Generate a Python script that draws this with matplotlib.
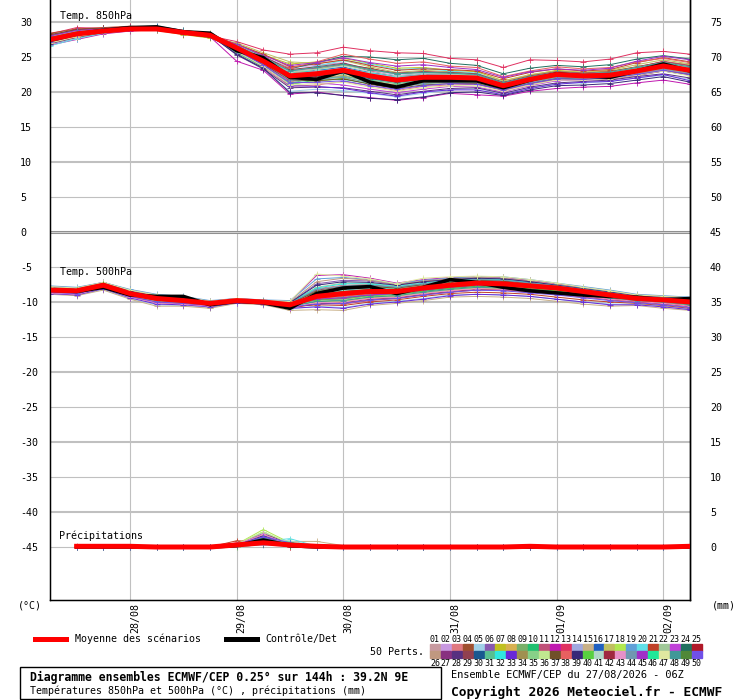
import matplotlib
matplotlib.use('Agg')
import matplotlib.pyplot as plt
from matplotlib.lines import Line2D
from matplotlib.patches import Rectangle

plt.rcParams['font.family'] = ['DejaVu Sans Mono', 'DejaVu Sans']

#--------------------------------------------------------------------------------------------------
# data (hours after 27/08/2026 06Z)
hours = [0, 6, 12, 18, 24, 30, 36, 42, 48, 54, 60, 66, 72, 78, 84, 90, 96, 102, 108, 114, 120, 126, 132, 138, 144]
hours_rr = [6, 12, 18, 24, 30, 36, 42, 48, 54, 60, 66, 72, 78, 84, 90, 96, 102, 108, 114, 120, 126, 132, 138, 144]

day_hours = [18, 42, 66, 90, 114, 138]
day_labels = ['28/08', '29/08', '30/08', '31/08', '01/09', '02/09']

t850_mean = [27.5, 28.3, 28.7, 29.0, 29.0, 28.5, 28.1, 26.3, 24.4, 22.3, 22.6, 23.1, 22.3, 21.7, 22.1, 22.1,
             22.0, 20.9, 21.8, 22.5, 22.3, 22.4, 23.0, 23.7, 23.1]
t850_ctrl = [27.4, 28.3, 28.8, 29.2, 29.3, 28.6, 28.4, 25.9, 24.9, 22.1, 21.8, 23.0, 21.4, 20.7, 21.6, 21.6,
             21.6, 20.6, 21.7, 22.6, 22.3, 22.1, 23.0, 24.0, 23.0]

t500_mean = [-8.3, -8.4, -7.6, -8.8, -9.5, -9.8, -10.2, -9.8, -10.0, -10.4, -9.2, -8.8, -8.5, -8.5, -8.0, -7.6,
             -7.3, -7.4, -7.7, -8.0, -8.5, -9.0, -9.5, -9.7, -10.0]
t500_ctrl = [-8.3, -8.5, -7.9, -9.0, -9.2, -9.2, -10.4, -9.9, -10.1, -10.9, -8.8, -8.0, -7.8, -8.8, -7.9, -6.8,
             -7.2, -7.9, -8.4, -8.7, -9.0, -9.2, -9.3, -9.7, -9.5]

rr_mean = [0.1, 0.1, 0.1, 0, 0, 0, 0.3, 0.6, 0.3, 0.1, 0, 0, 0, 0, 0, 0, 0, 0.1, 0, 0, 0, 0, 0, 0.1]
rr_ctrl = [0, 0, 0, 0, 0, 0, 0.2, 1.0, 0.2, 0, 0, 0, 0, 0, 0, 0, 0, 0, 0, 0, 0, 0, 0, 0]

t850_members = [
    [27.4, 28.2, 28.9, 29.1, 29.0, 28.4, 28.0, 26.0, 24.1, 21.8, 22.3, 22.9, 22.0, 21.2, 21.8, 21.9, 21.8, 20.6, 21.5, 22.3, 22.1, 22.3, 22.8, 23.5, 23.0],
    [27.8, 28.6, 28.8, 29.2, 29.2, 28.6, 28.2, 26.6, 25.0, 23.5, 23.8, 24.2, 23.1, 22.5, 22.8, 22.6, 22.4, 21.3, 22.2, 22.9, 22.6, 22.7, 23.3, 24.0, 23.4],
    [27.0, 27.9, 28.5, 28.9, 29.1, 28.5, 28.1, 25.8, 23.5, 20.8, 21.0, 21.5, 20.9, 20.2, 20.8, 21.0, 21.1, 20.2, 21.0, 21.8, 21.9, 22.1, 22.6, 23.2, 22.6],
    [28.1, 28.8, 29.0, 29.3, 29.1, 28.3, 27.8, 26.2, 24.5, 22.9, 23.2, 23.9, 23.4, 22.6, 22.9, 22.7, 22.3, 21.2, 22.0, 22.6, 22.4, 22.5, 23.1, 23.8, 23.3],
    [26.9, 27.6, 28.4, 28.8, 28.9, 28.6, 28.3, 25.5, 23.2, 20.1, 20.4, 20.2, 19.8, 19.3, 19.8, 20.3, 20.5, 19.8, 20.6, 21.2, 21.3, 21.5, 22.0, 22.4, 21.8],
    [27.5, 28.4, 28.9, 29.0, 29.1, 28.7, 28.2, 26.4, 24.6, 22.5, 23.0, 23.6, 22.4, 22.0, 22.3, 22.2, 22.1, 20.8, 21.7, 22.5, 22.4, 22.6, 23.4, 24.1, 23.6],
    [27.9, 28.5, 28.7, 29.0, 28.8, 28.2, 27.7, 26.9, 25.3, 24.0, 24.3, 24.8, 24.1, 23.4, 23.5, 23.1, 22.9, 21.6, 22.4, 23.1, 22.8, 23.0, 23.6, 24.3, 23.9],
    [27.3, 28.3, 28.8, 29.2, 29.3, 28.8, 28.4, 26.1, 24.0, 21.5, 21.9, 22.4, 21.6, 21.0, 21.5, 21.6, 21.6, 20.7, 21.6, 22.2, 22.0, 22.2, 22.7, 23.4, 22.8],
    [28.0, 29.0, 29.1, 29.2, 29.0, 28.4, 28.0, 26.7, 24.9, 22.8, 22.4, 22.8, 22.2, 21.6, 22.0, 22.3, 22.2, 21.0, 21.9, 22.6, 22.5, 22.4, 23.2, 23.9, 23.2],
    [27.2, 28.1, 28.6, 28.9, 29.0, 28.5, 28.2, 25.9, 23.8, 21.1, 21.7, 21.8, 21.2, 20.6, 21.3, 21.5, 21.4, 20.4, 21.3, 22.0, 21.8, 22.0, 22.5, 23.0, 22.4],
    [27.7, 28.3, 28.7, 29.1, 29.2, 28.6, 28.1, 26.5, 24.7, 23.1, 23.4, 24.0, 23.0, 22.2, 22.5, 22.4, 22.2, 21.1, 21.9, 22.7, 22.5, 22.6, 23.5, 24.4, 23.8],
    [26.7, 27.5, 28.3, 28.7, 28.9, 28.3, 27.9, 24.4, 23.1, 19.7, 20.0, 19.5, 19.2, 18.8, 19.2, 19.8, 19.6, 19.4, 20.1, 20.5, 20.7, 20.8, 21.3, 21.7, 21.1],
    [28.3, 29.2, 29.1, 29.3, 29.2, 28.5, 28.0, 27.2, 26.0, 25.4, 25.6, 26.4, 25.9, 25.6, 25.5, 24.8, 24.6, 23.5, 24.6, 24.5, 24.3, 24.7, 25.6, 25.8, 25.4],
    [27.5, 28.4, 28.8, 29.0, 29.0, 28.4, 28.1, 26.3, 24.3, 22.2, 22.5, 23.0, 22.3, 21.7, 22.0, 22.2, 22.0, 20.9, 21.8, 22.4, 22.2, 22.3, 22.9, 23.6, 23.0],
    [27.1, 28.0, 28.6, 29.0, 29.1, 28.7, 28.3, 26.0, 24.2, 22.0, 22.6, 23.3, 22.6, 21.9, 22.2, 22.0, 21.9, 20.8, 21.7, 22.4, 22.3, 22.5, 23.0, 23.7, 23.2],
    [27.6, 28.6, 28.9, 29.3, 29.4, 28.8, 28.3, 26.5, 24.8, 22.6, 23.1, 23.5, 22.8, 22.3, 22.6, 22.5, 22.3, 21.2, 22.1, 22.8, 22.6, 22.8, 23.4, 24.1, 23.5],
    [27.9, 28.7, 28.8, 29.1, 28.9, 28.3, 27.8, 27.0, 25.6, 24.3, 24.1, 24.5, 23.6, 22.8, 23.1, 22.9, 22.6, 21.6, 22.5, 23.0, 22.8, 23.1, 23.9, 24.6, 24.0],
    [27.0, 27.8, 28.5, 28.9, 29.0, 28.6, 28.2, 25.7, 23.7, 21.2, 21.5, 22.0, 21.4, 20.8, 21.2, 21.4, 21.3, 20.5, 21.4, 22.1, 22.2, 22.4, 22.9, 23.4, 22.9],
    [27.4, 28.3, 28.8, 29.2, 29.2, 28.5, 28.0, 26.2, 24.4, 22.4, 22.8, 23.2, 22.5, 21.9, 22.2, 22.1, 22.0, 20.9, 21.8, 22.5, 22.3, 22.4, 23.0, 23.7, 23.1],
    [26.6, 27.6, 28.4, 28.8, 29.0, 28.4, 27.8, 25.9, 24.1, 22.9, 23.7, 24.5, 24.0, 23.2, 23.4, 23.0, 22.7, 21.4, 22.2, 22.6, 22.3, 22.5, 23.2, 23.9, 23.3],
    [28.4, 29.0, 29.2, 29.4, 29.2, 28.6, 28.2, 26.8, 25.4, 23.6, 24.0, 24.6, 23.8, 23.1, 23.3, 23.2, 23.0, 21.9, 22.8, 23.3, 23.0, 23.2, 24.2, 24.9, 24.3],
    [27.3, 28.2, 28.7, 29.0, 29.0, 28.5, 28.1, 26.1, 24.2, 21.9, 22.1, 22.6, 21.8, 21.3, 21.7, 21.8, 21.7, 20.6, 21.5, 22.2, 22.1, 22.2, 22.8, 23.5, 22.9],
    [27.8, 28.5, 28.9, 29.1, 29.1, 28.4, 27.9, 26.4, 24.3, 21.4, 21.3, 21.0, 20.4, 19.9, 20.4, 20.8, 20.7, 20.0, 20.9, 21.6, 21.7, 21.8, 22.3, 23.0, 22.4],
    [27.5, 28.4, 28.8, 29.2, 29.3, 28.7, 28.3, 26.6, 24.9, 23.3, 24.2, 25.1, 25.0, 24.6, 24.8, 24.1, 23.8, 22.6, 23.4, 23.8, 23.6, 23.9, 24.7, 25.2, 24.7],
    [27.2, 28.1, 28.6, 29.0, 29.2, 28.6, 28.2, 26.3, 24.4, 22.3, 22.7, 23.2, 22.5, 21.9, 22.1, 22.0, 21.8, 20.7, 21.6, 22.3, 22.2, 22.3, 22.9, 23.6, 23.1],
    [27.9, 28.8, 29.0, 29.1, 29.0, 28.3, 27.9, 26.0, 23.9, 21.6, 21.9, 22.3, 21.5, 20.9, 21.4, 21.5, 21.5, 20.5, 21.4, 22.1, 22.0, 22.1, 22.6, 23.2, 22.6],
    [27.6, 28.4, 28.9, 29.2, 29.1, 28.5, 28.1, 26.3, 24.5, 22.1, 22.4, 22.9, 22.1, 21.5, 21.9, 21.9, 21.8, 20.7, 21.7, 22.4, 22.2, 22.4, 23.0, 23.6, 23.0],
    [26.9, 27.8, 28.5, 28.9, 29.1, 28.6, 28.2, 25.3, 23.3, 20.6, 20.7, 20.6, 20.1, 19.6, 20.1, 20.5, 20.6, 19.8, 20.7, 21.3, 21.5, 21.7, 22.2, 22.6, 22.0],
    [28.0, 28.9, 29.1, 29.3, 29.2, 28.5, 28.0, 26.7, 25.1, 23.2, 23.6, 24.1, 23.3, 22.7, 22.9, 22.8, 22.6, 21.4, 22.3, 22.9, 22.7, 22.9, 23.6, 24.3, 23.7],
    [27.4, 28.3, 28.8, 29.1, 29.1, 28.5, 28.0, 26.2, 24.3, 22.0, 22.3, 22.7, 21.9, 21.4, 21.8, 21.9, 21.8, 20.8, 21.7, 22.4, 22.3, 22.4, 23.1, 23.8, 23.2],
    [27.1, 28.0, 28.6, 29.0, 29.2, 28.7, 28.3, 25.6, 23.6, 21.3, 21.9, 22.2, 21.7, 21.2, 21.6, 21.7, 21.6, 20.6, 21.6, 22.3, 22.2, 22.4, 22.9, 23.5, 22.9],
    [27.7, 28.5, 28.8, 29.1, 29.0, 28.4, 27.9, 26.6, 24.8, 22.7, 23.0, 23.4, 22.7, 22.1, 22.4, 22.4, 22.3, 21.1, 22.0, 22.7, 22.5, 22.6, 23.3, 24.0, 23.4],
    [27.3, 28.2, 28.7, 29.0, 29.1, 28.5, 28.1, 26.0, 23.8, 20.9, 20.8, 20.5, 19.9, 19.4, 20.0, 20.3, 20.3, 19.6, 20.5, 21.1, 21.4, 21.5, 22.0, 22.5, 21.6],
    [27.8, 28.7, 29.0, 29.2, 29.1, 28.4, 28.0, 26.5, 24.6, 22.4, 22.8, 23.1, 22.4, 21.8, 22.1, 22.1, 22.0, 20.9, 21.8, 22.5, 22.4, 22.5, 23.2, 23.9, 23.3],
    [27.2, 28.1, 28.7, 29.0, 29.1, 28.6, 28.2, 26.3, 24.5, 22.6, 23.3, 23.8, 23.2, 22.6, 22.8, 22.6, 22.4, 21.2, 22.1, 22.7, 22.5, 22.7, 23.4, 24.0, 23.5],
    [27.5, 28.3, 28.8, 29.1, 29.1, 28.5, 28.0, 26.4, 24.6, 22.3, 22.6, 23.0, 22.2, 21.6, 22.0, 22.0, 21.9, 20.8, 21.8, 22.5, 22.3, 22.4, 23.1, 23.7, 23.2],
    [28.2, 28.9, 29.1, 29.2, 29.0, 28.3, 27.8, 26.1, 24.0, 21.7, 21.6, 21.9, 21.1, 20.5, 21.0, 21.2, 21.2, 20.3, 21.2, 21.9, 21.8, 21.9, 22.4, 23.0, 22.5],
    [27.0, 27.9, 28.5, 28.9, 29.0, 28.5, 28.2, 26.2, 24.6, 23.4, 24.3, 25.4, 24.7, 24.1, 24.3, 23.7, 23.5, 22.2, 23.0, 23.6, 23.3, 23.5, 24.3, 24.8, 24.2],
    [27.6, 28.5, 28.9, 29.2, 29.2, 28.6, 28.1, 25.4, 23.4, 19.9, 19.9, 19.5, 19.1, 18.9, 19.3, 19.9, 20.0, 19.5, 20.3, 20.9, 21.0, 21.2, 21.7, 22.2, 21.4],
    [27.4, 28.2, 28.7, 29.0, 29.0, 28.4, 28.0, 26.3, 24.4, 22.2, 22.5, 23.0, 22.3, 21.8, 22.1, 22.1, 22.0, 20.9, 21.8, 22.4, 22.3, 22.4, 23.0, 23.6, 23.0],
    [27.9, 28.7, 28.9, 29.2, 29.1, 28.5, 28.1, 26.7, 25.0, 22.9, 23.2, 23.7, 22.9, 22.3, 22.6, 22.5, 22.3, 21.2, 22.1, 22.8, 22.6, 22.8, 23.5, 24.2, 23.6],
    [27.1, 27.9, 28.6, 29.0, 29.1, 28.6, 28.2, 26.0, 24.0, 21.8, 22.2, 22.8, 22.1, 21.5, 21.8, 21.9, 21.8, 20.7, 21.6, 22.3, 22.2, 22.3, 22.9, 23.5, 22.9],
    [27.7, 28.5, 28.8, 29.1, 29.1, 28.4, 28.0, 26.5, 24.7, 22.6, 22.9, 23.4, 22.6, 22.0, 22.3, 22.3, 22.2, 21.0, 21.9, 22.6, 22.4, 22.5, 23.2, 23.9, 23.4],
    [27.3, 28.2, 28.7, 29.0, 29.0, 28.5, 28.1, 26.2, 24.2, 21.7, 21.8, 22.1, 21.3, 20.7, 21.2, 21.4, 21.4, 20.4, 21.4, 22.1, 22.0, 22.2, 22.7, 23.3, 22.7],
    [28.0, 28.8, 29.0, 29.3, 29.2, 28.5, 28.0, 26.8, 25.2, 23.8, 24.2, 24.9, 24.2, 23.7, 23.9, 23.5, 23.2, 22.1, 22.9, 23.3, 23.1, 23.4, 24.4, 25.1, 24.6],
    [27.5, 28.4, 28.8, 29.1, 29.1, 28.5, 28.1, 26.3, 24.4, 22.4, 22.7, 23.1, 22.4, 21.8, 22.1, 22.1, 22.0, 20.9, 21.8, 22.5, 22.3, 22.5, 23.1, 23.7, 23.2],
    [27.0, 27.9, 28.6, 29.0, 29.1, 28.6, 28.2, 25.8, 23.7, 21.0, 21.2, 21.4, 20.7, 20.1, 20.6, 20.9, 20.9, 20.1, 21.0, 21.7, 21.7, 21.9, 22.4, 23.0, 22.3],
    [27.8, 28.6, 28.9, 29.2, 29.1, 28.5, 28.0, 26.6, 24.9, 23.0, 23.5, 24.0, 23.2, 22.6, 22.8, 22.7, 22.5, 21.3, 22.2, 22.8, 22.6, 22.8, 23.5, 24.2, 23.6],
    [27.4, 28.3, 28.8, 29.1, 29.1, 28.5, 28.1, 26.2, 24.3, 22.1, 22.5, 22.9, 22.1, 21.6, 22.0, 22.0, 21.9, 20.8, 21.7, 22.4, 22.3, 22.4, 23.0, 23.7, 23.1],
    [27.2, 28.1, 28.7, 29.0, 29.1, 28.6, 28.2, 25.9, 23.9, 21.3, 21.4, 21.6, 20.9, 20.4, 20.9, 21.2, 21.1, 20.3, 21.2, 21.9, 21.8, 22.0, 22.5, 23.1, 22.5],
]

t500_members = [
    [-8.2, -8.5, -7.5, -8.9, -9.6, -9.9, -10.3, -9.8, -10.0, -10.5, -9.4, -9.1, -8.7, -8.6, -8.1, -7.7, -7.5, -7.6, -7.9, -8.2, -8.7, -9.1, -9.6, -9.8, -10.1],
    [-8.6, -8.7, -7.9, -9.1, -9.9, -10.2, -10.5, -9.9, -10.1, -10.7, -9.8, -9.6, -9.1, -8.9, -8.5, -8.0, -7.7, -7.8, -8.2, -8.5, -8.9, -9.4, -9.9, -10.1, -10.5],
    [-7.9, -8.1, -7.3, -8.5, -9.2, -9.5, -10.0, -9.7, -9.9, -10.2, -8.1, -7.6, -7.5, -7.9, -7.4, -7.0, -6.8, -6.9, -7.3, -7.7, -8.2, -8.6, -9.2, -9.4, -9.6],
    [-8.4, -8.5, -7.6, -8.8, -9.4, -9.7, -10.1, -9.8, -10.0, -10.3, -9.0, -8.6, -8.3, -8.4, -7.8, -7.4, -7.1, -7.2, -7.6, -7.9, -8.4, -8.9, -9.4, -9.6, -9.9],
    [-8.8, -9.0, -8.2, -9.5, -10.4, -10.5, -10.8, -10.1, -10.3, -11.0, -10.6, -10.8, -10.2, -9.9, -9.5, -9.0, -8.9, -9.0, -9.2, -9.6, -10.0, -10.3, -10.3, -10.6, -11.0],
    [-8.1, -8.2, -7.4, -8.6, -9.3, -9.6, -10.1, -9.6, -9.9, -10.1, -7.4, -6.9, -7.0, -7.5, -7.1, -6.8, -6.6, -6.7, -7.1, -7.6, -8.1, -8.7, -9.3, -9.5, -9.7],
    [-8.3, -8.4, -7.6, -8.8, -9.5, -9.8, -10.2, -9.8, -10.0, -10.4, -9.3, -8.9, -8.6, -8.5, -8.0, -7.6, -7.3, -7.4, -7.7, -8.0, -8.5, -9.0, -9.5, -9.7, -10.0],
    [-8.5, -8.6, -7.8, -9.0, -9.7, -10.0, -10.4, -9.9, -10.1, -10.6, -9.9, -9.9, -9.4, -9.2, -8.7, -8.3, -8.0, -8.1, -8.4, -8.7, -9.1, -9.5, -9.8, -10.0, -10.4],
    [-8.0, -8.1, -7.3, -8.4, -9.1, -9.4, -10.0, -9.7, -9.9, -10.1, -8.4, -7.9, -7.7, -8.0, -7.5, -7.1, -6.9, -7.0, -7.4, -7.8, -8.3, -8.8, -9.3, -9.5, -9.8],
    [-8.3, -8.5, -7.7, -8.9, -9.6, -9.9, -10.3, -9.8, -10.0, -10.5, -9.6, -9.3, -8.9, -8.7, -8.2, -7.8, -7.5, -7.5, -7.8, -8.1, -8.6, -9.1, -9.6, -9.8, -10.2],
    [-8.7, -8.9, -8.0, -9.3, -10.1, -10.3, -10.6, -10.0, -10.2, -10.8, -10.2, -10.3, -9.8, -9.5, -9.0, -8.6, -8.3, -8.3, -8.6, -8.9, -9.3, -9.7, -10.0, -10.3, -10.7],
    [-7.8, -8.0, -7.2, -8.3, -9.0, -9.3, -9.9, -9.5, -9.8, -9.9, -6.2, -6.1, -6.6, -7.3, -6.8, -6.5, -6.4, -6.5, -6.9, -7.4, -8.0, -8.5, -9.1, -9.3, -9.5],
    [-8.2, -8.3, -7.5, -8.7, -9.4, -9.7, -10.2, -9.8, -10.0, -10.3, -8.9, -8.4, -8.1, -8.2, -7.7, -7.3, -7.0, -7.1, -7.5, -7.9, -8.4, -8.9, -9.4, -9.6, -9.9],
    [-8.4, -8.6, -7.7, -8.9, -9.6, -9.9, -10.3, -9.9, -10.0, -10.5, -9.5, -9.2, -8.8, -8.7, -8.2, -7.7, -7.4, -7.5, -7.8, -8.1, -8.6, -9.1, -9.6, -9.8, -10.1],
    [-8.9, -9.1, -8.3, -9.6, -10.6, -10.6, -10.9, -10.2, -10.4, -11.2, -11.1, -11.2, -10.5, -10.2, -9.8, -9.3, -9.2, -9.3, -9.5, -9.9, -10.3, -10.6, -10.5, -10.9, -11.2],
    [-8.1, -8.3, -7.4, -8.6, -9.3, -9.6, -10.1, -9.7, -9.9, -10.2, -8.6, -8.2, -7.9, -8.1, -7.6, -7.2, -7.0, -7.1, -7.5, -7.8, -8.3, -8.8, -9.3, -9.5, -9.8],
    [-8.3, -8.4, -7.6, -8.8, -9.5, -9.8, -10.2, -9.8, -10.0, -10.4, -9.2, -8.8, -8.5, -8.5, -8.0, -7.6, -7.3, -7.4, -7.7, -8.0, -8.5, -9.0, -9.5, -9.7, -10.0],
    [-8.5, -8.7, -7.8, -9.0, -9.8, -10.1, -10.4, -9.9, -10.1, -10.6, -10.0, -9.8, -9.3, -9.1, -8.6, -8.2, -7.9, -8.0, -8.3, -8.6, -9.0, -9.4, -9.8, -10.0, -10.4],
    [-7.7, -7.9, -7.2, -8.2, -8.9, -9.2, -9.8, -9.5, -9.7, -9.8, -6.7, -6.5, -6.8, -7.4, -6.9, -6.6, -6.4, -6.4, -6.8, -7.3, -7.8, -8.3, -8.9, -9.1, -9.3],
    [-8.2, -8.4, -7.5, -8.7, -9.4, -9.7, -10.2, -9.8, -10.0, -10.3, -8.7, -8.3, -8.0, -8.2, -7.7, -7.3, -7.1, -7.2, -7.5, -7.9, -8.4, -8.9, -9.4, -9.6, -9.9],
    [-8.6, -8.8, -7.9, -9.2, -10.0, -10.2, -10.5, -10.0, -10.2, -10.7, -10.4, -10.5, -10.0, -9.7, -9.2, -8.8, -8.6, -8.7, -8.9, -9.3, -9.7, -10.0, -10.2, -10.5, -10.9],
    [-8.0, -8.2, -7.4, -8.5, -9.2, -9.5, -10.0, -9.7, -9.9, -10.1, -7.9, -7.3, -7.3, -7.7, -7.2, -6.9, -6.7, -6.8, -7.2, -7.6, -8.1, -8.6, -9.2, -9.4, -9.6],
    [-8.4, -8.5, -7.7, -8.9, -9.6, -9.9, -10.3, -9.9, -10.0, -10.4, -9.4, -9.0, -8.7, -8.6, -8.1, -7.7, -7.4, -7.5, -7.8, -8.1, -8.6, -9.1, -9.6, -9.8, -10.1],
    [-8.3, -8.4, -7.6, -8.8, -9.5, -9.8, -10.2, -9.8, -10.0, -10.4, -9.1, -8.7, -8.4, -8.5, -8.0, -7.5, -7.2, -7.3, -7.7, -8.0, -8.5, -9.0, -9.5, -9.7, -10.0],
    [-8.7, -8.8, -8.0, -9.2, -10.0, -10.3, -10.6, -10.0, -10.2, -10.8, -10.3, -10.1, -9.6, -9.4, -8.9, -8.5, -8.2, -8.2, -8.5, -8.8, -9.2, -9.6, -9.9, -10.2, -10.6],
    [-7.9, -8.1, -7.3, -8.4, -9.1, -9.4, -10.0, -9.6, -9.8, -10.0, -7.1, -6.6, -6.9, -7.5, -7.0, -6.7, -6.5, -6.6, -7.0, -7.5, -8.0, -8.5, -9.0, -9.2, -9.4],
    [-8.2, -8.3, -7.5, -8.7, -9.4, -9.7, -10.2, -9.8, -10.0, -10.3, -8.8, -8.5, -8.2, -8.3, -7.8, -7.4, -7.1, -7.2, -7.6, -7.9, -8.4, -8.9, -9.4, -9.6, -9.9],
    [-8.4, -8.6, -7.8, -9.0, -9.7, -10.0, -10.4, -9.9, -10.1, -10.5, -9.7, -9.5, -9.0, -8.8, -8.4, -7.9, -7.7, -7.8, -8.1, -8.4, -8.8, -9.2, -9.7, -9.9, -10.3],
    [-8.1, -8.2, -7.4, -8.6, -9.3, -9.6, -10.1, -9.7, -9.9, -10.2, -8.3, -7.8, -7.6, -7.9, -7.4, -7.0, -6.8, -6.9, -7.3, -7.7, -8.2, -8.7, -9.2, -9.4, -9.7],
    [-8.5, -8.7, -7.9, -9.1, -9.8, -10.1, -10.5, -10.0, -10.1, -10.6, -9.9, -9.7, -9.2, -9.0, -8.5, -8.1, -7.8, -7.9, -8.2, -8.5, -8.9, -9.3, -9.8, -10.0, -10.3],
    [-8.3, -8.5, -7.6, -8.8, -9.5, -9.8, -10.2, -9.8, -10.0, -10.4, -9.3, -9.0, -8.6, -8.6, -8.1, -7.6, -7.3, -7.4, -7.7, -8.0, -8.5, -9.0, -9.5, -9.7, -10.0],
    [-8.0, -8.1, -7.3, -8.5, -9.2, -9.5, -10.0, -9.7, -9.9, -10.1, -8.0, -7.4, -7.4, -7.8, -7.3, -6.9, -6.7, -6.8, -7.2, -7.6, -8.1, -8.6, -9.1, -9.3, -9.6],
    [-8.8, -9.0, -8.1, -9.4, -10.3, -10.4, -10.7, -10.1, -10.3, -10.9, -10.7, -10.9, -10.3, -10.0, -9.6, -9.1, -8.9, -9.0, -9.2, -9.6, -10.0, -10.4, -10.4, -10.7, -11.1],
    [-8.3, -8.4, -7.6, -8.8, -9.5, -9.8, -10.2, -9.8, -10.0, -10.4, -9.0, -8.6, -8.3, -8.4, -7.9, -7.5, -7.2, -7.3, -7.6, -8.0, -8.5, -9.0, -9.5, -9.7, -10.0],
    [-8.2, -8.3, -7.5, -8.7, -9.4, -9.7, -10.1, -9.8, -10.0, -10.3, -8.5, -8.0, -7.8, -8.1, -7.6, -7.2, -7.0, -7.1, -7.4, -7.8, -8.3, -8.8, -9.3, -9.5, -9.8],
    [-8.6, -8.7, -7.9, -9.1, -9.9, -10.1, -10.5, -10.0, -10.1, -10.6, -9.8, -9.7, -9.2, -9.0, -8.6, -8.2, -7.9, -8.0, -8.3, -8.6, -9.0, -9.4, -9.8, -10.0, -10.4],
    [-8.1, -8.3, -7.4, -8.6, -9.3, -9.6, -10.1, -9.7, -9.9, -10.2, -8.5, -8.1, -7.8, -8.0, -7.5, -7.1, -6.9, -7.0, -7.4, -7.8, -8.3, -8.8, -9.3, -9.5, -9.8],
    [-8.4, -8.5, -7.7, -8.9, -9.6, -9.9, -10.3, -9.9, -10.0, -10.5, -9.5, -9.2, -8.8, -8.7, -8.2, -7.8, -7.5, -7.6, -7.9, -8.2, -8.7, -9.1, -9.6, -9.8, -10.2],
    [-8.0, -8.2, -7.3, -8.5, -9.2, -9.5, -10.0, -9.6, -9.9, -10.1, -7.6, -7.1, -7.2, -7.6, -7.1, -6.8, -6.6, -6.7, -7.1, -7.6, -8.1, -8.6, -9.1, -9.3, -9.5],
    [-8.5, -8.6, -7.8, -9.0, -9.7, -10.0, -10.4, -9.9, -10.1, -10.5, -9.7, -9.5, -9.1, -8.9, -8.4, -8.0, -7.7, -7.8, -8.1, -8.4, -8.8, -9.2, -9.7, -9.9, -10.3],
    [-8.2, -8.4, -7.5, -8.7, -9.4, -9.7, -10.2, -9.8, -10.0, -10.3, -8.8, -8.4, -8.1, -8.3, -7.8, -7.4, -7.1, -7.2, -7.5, -7.9, -8.4, -8.9, -9.4, -9.6, -9.9],
    [-8.3, -8.5, -7.6, -8.8, -9.5, -9.8, -10.2, -9.8, -10.0, -10.4, -9.2, -8.8, -8.5, -8.5, -8.0, -7.6, -7.3, -7.4, -7.7, -8.0, -8.5, -9.0, -9.5, -9.7, -10.0],
    [-8.7, -8.9, -8.0, -9.3, -10.1, -10.3, -10.6, -10.0, -10.2, -10.8, -10.1, -10.0, -9.5, -9.3, -8.8, -8.4, -8.1, -8.2, -8.5, -8.8, -9.2, -9.6, -9.9, -10.2, -10.6],
    [-8.1, -8.2, -7.4, -8.6, -9.3, -9.6, -10.1, -9.7, -9.9, -10.2, -8.2, -7.7, -7.6, -7.9, -7.4, -7.0, -6.8, -6.9, -7.3, -7.7, -8.2, -8.7, -9.2, -9.4, -9.7],
    [-8.4, -8.5, -7.7, -8.9, -9.6, -9.9, -10.3, -9.9, -10.0, -10.5, -9.6, -9.4, -9.0, -8.8, -8.3, -7.9, -7.6, -7.6, -7.9, -8.2, -8.7, -9.2, -9.7, -9.9, -10.2],
    [-8.3, -8.4, -7.6, -8.8, -9.5, -9.8, -10.2, -9.8, -10.0, -10.4, -9.0, -8.7, -8.4, -8.4, -7.9, -7.5, -7.2, -7.3, -7.7, -8.0, -8.5, -9.0, -9.5, -9.7, -10.0],
    [-7.8, -8.0, -7.2, -8.3, -9.0, -9.3, -9.9, -9.5, -9.8, -9.9, -6.0, -6.3, -6.7, -7.4, -6.6, -6.4, -6.3, -6.4, -6.8, -7.3, -7.9, -8.4, -9.0, -9.2, -9.4],
    [-8.5, -8.7, -7.8, -9.0, -9.8, -10.1, -10.4, -9.9, -10.1, -10.6, -9.9, -9.8, -9.3, -9.1, -8.6, -8.2, -7.9, -8.0, -8.3, -8.6, -9.0, -9.4, -9.8, -10.0, -10.4],
    [-8.2, -8.3, -7.5, -8.7, -9.4, -9.7, -10.2, -9.8, -10.0, -10.3, -8.9, -8.5, -8.2, -8.3, -7.8, -7.4, -7.1, -7.2, -7.6, -7.9, -8.4, -8.9, -9.4, -9.6, -9.9],
    [-8.6, -8.8, -7.9, -9.2, -10.0, -10.2, -10.5, -10.0, -10.2, -10.7, -10.3, -10.2, -9.7, -9.5, -9.0, -8.6, -8.3, -8.4, -8.7, -9.0, -9.4, -9.8, -10.1, -10.4, -10.8],
]

rr_members = [
    [0, 0, 0, 0, 0, 0, 0.3, 0.9, 0.2, 0, 0, 0, 0, 0, 0, 0, 0, 0, 0, 0, 0, 0, 0, 0],
    [0, 0, 0, 0, 0, 0, 0.2, 1.4, 0.3, 0, 0, 0, 0, 0, 0, 0, 0, 0, 0, 0, 0, 0, 0, 0],
    [0.1, 0, 0, 0, 0, 0, 0.4, 1.0, 0.1, 0, 0, 0, 0, 0, 0, 0, 0, 0, 0, 0, 0, 0, 0, 0],
    [0, 0, 0, 0, 0, 0, 0.5, 0.6, 0, 0, 0, 0, 0, 0, 0, 0, 0, 0, 0, 0, 0, 0, 0, 0],
    [0, 0, 0, 0, 0, 0, 0.1, 0.5, 0.4, 0, 0, 0, 0, 0, 0, 0, 0, 0, 0, 0, 0, 0, 0, 0],
    [0, 0, 0, 0, 0, 0, 0.3, 1.8, 0.2, 0, 0, 0, 0, 0, 0, 0, 0, 0, 0, 0, 0, 0, 0, 0],
    [0, 0, 0, 0, 0, 0, 0.2, 1.2, 0.3, 0, 0, 0, 0, 0, 0, 0, 0, 0, 0, 0, 0, 0, 0, 0],
    [0, 0, 0, 0, 0, 0, 0.1, 0.7, 0.2, 0, 0, 0, 0, 0, 0, 0, 0, 0, 0, 0, 0, 0, 0, 0],
    [0, 0, 0, 0, 0, 0, 0.3, 1.5, 0.4, 0, 0, 0, 0, 0, 0, 0, 0, 0, 0, 0, 0, 0, 0, 0],
    [0, 0, 0, 0, 0, 0, 0, 0.4, 0.1, 0, 0, 0, 0, 0, 0, 0, 0, 0, 0, 0, 0, 0, 0, 0],
    [0, 0, 0, 0, 0, 0, 0.4, 1.1, 0.2, 0, 0, 0, 0, 0, 0, 0, 0, 0, 0, 0, 0, 0, 0, 0],
    [0, 0, 0, 0, 0, 0, 0.2, 1.6, 0.3, 0, 0, 0, 0, 0, 0, 0, 0, 0, 0, 0, 0, 0, 0, 0],
    [0, 0, 0, 0, 0, 0, 0.6, 0.8, 0, 0, 0, 0, 0, 0, 0, 0, 0, 0, 0, 0, 0, 0, 0, 0],
    [0, 0, 0, 0, 0, 0, 0.1, 0.3, 0.1, 0, 0, 0, 0, 0, 0, 0, 0, 0, 0, 0, 0, 0, 0, 0],
    [0, 0, 0, 0, 0, 0, 0, 0.4, 0.8, 0.8, 0.2, 0, 0, 0, 0, 0, 0, 0, 0, 0, 0, 0, 0, 0],
    [0, 0, 0, 0, 0, 0, 0.2, 0.9, 0.2, 0, 0, 0, 0, 0, 0, 0, 0, 0, 0, 0, 0, 0, 0, 0],
    [0, 0, 0, 0, 0, 0, 0.3, 1.3, 0.3, 0, 0, 0, 0, 0, 0, 0, 0, 0, 0, 0, 0, 0, 0, 0],
    [0, 0, 0, 0, 0, 0, 0.4, 2.5, 0.6, 0, 0, 0, 0, 0, 0, 0, 0, 0, 0, 0, 0, 0, 0, 0],
    [0, 0, 0, 0, 0, 0, 0.1, 0.6, 0.2, 0, 0, 0, 0, 0, 0, 0, 0, 0, 0, 0, 0, 0, 0, 0],
    [0, 0, 0, 0, 0, 0, 0.2, 0.8, 1.2, 0.1, 0, 0, 0, 0, 0, 0, 0, 0, 0, 0, 0, 0, 0, 0],
    [0, 0, 0, 0, 0, 0, 0.9, 0.7, 0.1, 0, 0, 0, 0, 0, 0, 0, 0, 0, 0, 0, 0, 0, 0, 0],
    [0, 0, 0, 0, 0, 0, 0.3, 2.1, 0.4, 0, 0, 0, 0, 0, 0, 0, 0, 0, 0, 0, 0, 0, 0, 0],
    [0, 0, 0, 0, 0, 0, 0.2, 1.0, 0.3, 0, 0, 0, 0, 0, 0, 0, 0, 0, 0, 0, 0, 0, 0, 0],
    [0, 0, 0, 0, 0, 0, 0.1, 0.5, 0.1, 0, 0, 0, 0, 0, 0, 0, 0, 0, 0, 0, 0, 0, 0, 0],
    [0, 0, 0, 0, 0, 0, 0.5, 0.9, 0.2, 0, 0, 0, 0, 0, 0, 0, 0, 0, 0, 0, 0, 0, 0, 0],
    [0, 0, 0, 0, 0, 0, 0.2, 1.7, 0.3, 0, 0, 0, 0, 0, 0, 0, 0, 0, 0, 0, 0, 0, 0, 0],
    [0, 0, 0, 0, 0, 0, 0.3, 1.9, 0.5, 0, 0, 0, 0, 0, 0, 0, 0, 0, 0, 0, 0, 0, 0, 0],
    [0, 0, 0, 0, 0, 0, 0.2, 1.4, 0.2, 0, 0, 0, 0, 0, 0, 0, 0, 0, 0, 0, 0, 0, 0, 0],
    [0, 0, 0, 0, 0, 0, 0.4, 1.2, 0.3, 0, 0, 0, 0, 0, 0, 0, 0, 0, 0, 0, 0, 0, 0, 0],
    [0, 0, 0, 0, 0, 0, 0.1, 0.5, 0.1, 0, 0, 0, 0, 0, 0, 0, 0, 0, 0, 0, 0, 0, 0, 0],
    [0, 0, 0, 0, 0, 0, 0.2, 0.9, 0.6, 0, 0, 0, 0, 0, 0, 0, 0, 0, 0, 0, 0, 0, 0, 0],
    [0, 0, 0, 0, 0, 0, 0.3, 1.1, 0.2, 0, 0, 0, 0, 0, 0, 0, 0, 0, 0, 0, 0, 0, 0, 0],
    [0, 0, 0, 0, 0, 0, 0.2, 1.5, 0.3, 0, 0, 0, 0, 0, 0, 0, 0, 0, 0, 0, 0, 0, 0, 0],
    [0, 0, 0, 0, 0, 0, 0.1, 1.0, 0.2, 0, 0, 0, 0, 0, 0, 0, 0, 0, 0, 0, 0, 0, 0, 0],
    [0, 0, 0, 0, 0, 0, 0.3, 1.3, 0.4, 0, 0, 0, 0, 0, 0, 0, 0, 0, 0, 0, 0, 0, 0, 0],
    [0, 0, 0, 0, 0, 0, 0.4, 2.2, 0.5, 0, 0, 0, 0, 0, 0, 0, 0, 0, 0, 0, 0, 0, 0, 0],
    [0, 0, 0, 0, 0, 0, 0.2, 0.8, 0.1, 0, 0, 0, 0, 0, 0, 0, 0, 0, 0, 0, 0, 0, 0, 0],
    [0, 0, 0, 0, 0, 0, 0.3, 0.6, 0.2, 0, 0, 0, 0, 0, 0, 0, 0, 0, 0, 0, 0, 0, 0, 0],
    [0, 0, 0, 0, 0, 0, 0.2, 1.6, 0.3, 0, 0, 0, 0, 0, 0, 0, 0, 0, 0, 0, 0, 0, 0, 0],
    [0, 0, 0, 0, 0, 0, 0.1, 0.7, 0.2, 0, 0, 0, 0, 0, 0, 0, 0, 0, 0, 0, 0, 0, 0, 0],
    [0, 0, 0, 0, 0, 0, 0.3, 1.0, 0.9, 0.1, 0, 0, 0, 0, 0, 0, 0, 0, 0, 0, 0, 0, 0, 0],
    [0, 0, 0, 0, 0, 0, 0.2, 1.2, 0.2, 0, 0, 0, 0, 0, 0, 0, 0, 0, 0, 0, 0, 0, 0, 0],
    [0, 0, 0, 0, 0, 0, 0.4, 1.8, 0.3, 0, 0, 0, 0, 0, 0, 0, 0, 0, 0, 0, 0, 0, 0, 0],
    [0, 0, 0, 0, 0, 0, 0.1, 0.6, 0.4, 0, 0, 0, 0, 0, 0, 0, 0, 0, 0, 0, 0, 0, 0, 0],
    [0, 0, 0, 0, 0, 0, 0.3, 1.4, 0.3, 0, 0, 0, 0, 0, 0, 0, 0, 0, 0, 0, 0, 0, 0, 0],
    [0, 0, 0, 0, 0, 0, 0.2, 0.9, 0.7, 0, 0, 0, 0, 0, 0, 0, 0, 0, 0, 0, 0, 0, 0, 0],
    [0, 0, 0, 0, 0, 0, 0.2, 1.1, 0.2, 0, 0, 0, 0, 0, 0, 0, 0, 0, 0, 0, 0, 0, 0, 0],
    [0, 0, 0, 0, 0, 0, 0.3, 1.3, 0.3, 0, 0, 0, 0, 0, 0, 0, 0, 0, 0, 0, 0, 0, 0, 0],
    [0, 0, 0, 0, 0, 0, 0.2, 0.8, 0.2, 0, 0, 0, 0, 0, 0, 0, 0, 0, 0, 0, 0, 0, 0, 0],
    [0, 0, 0, 0, 0, 0, 0.3, 1.5, 0.6, 0, 0, 0, 0, 0, 0, 0, 0, 0, 0, 0, 0, 0, 0, 0],
]

member_colors = [
    '#c89aa0', '#c898e0', '#e07880', '#a05030', '#a0d0e8', '#8858b0', '#c0c020', '#d8b050', '#78b068', '#20c070',
    '#c05078', '#c018b0', '#e03060', '#a0a8e0', '#c8b088', '#2060c0', '#c0c060', '#b0e850', '#60a0d8', '#60e0e8',
    '#c04028', '#a0c898', '#c040d8', '#207060', '#b01828',
    '#c09880', '#883080', '#583080', '#904050', '#185890', '#58c090', '#30e8e0', '#6828d8', '#a09050', '#88d088',
    '#c0e890', '#705028', '#e86060', '#382878', '#58d040', '#b0d8c8', '#a02840', '#e890c8', '#7098b0', '#a030c8',
    '#20e898', '#e0e8a0', '#409898', '#508838', '#7050e8',
]

#--------------------------------------------------------------------------------------------------
W, H = 740, 700

def px(x, y):
    return x / W, 1 - y / H

fig = plt.figure(figsize=(W / 100, H / 100), dpi=100)
ax = fig.add_axes([50 / W, 100 / H, 640 / W, 600 / H])
ax.set_xlim(0, 144)
ax.set_ylim(-52.57, 33.14)

# horizontal and vertical grid
for v in range(-45, 35, 5):
    if v == 0:
        continue
    lw = 1.5 if v % 10 == 0 else 0.8
    ax.axhline(v, color='#c0c0c0', lw=lw, zorder=0)
ax.axhline(0, color='#909090', lw=2.2, zorder=0.5)
ax.axhline(0, color='#dcdcdc', lw=0.6, zorder=0.6)
for h in day_hours:
    ax.axvline(h, color='#c0c0c0', lw=0.8, zorder=0)

# temperatures
for k in range(50):
    ax.plot(hours, t850_members[k], color=member_colors[k], lw=0.7, marker='+', ms=4, mew=0.6, zorder=2)
    ax.plot(hours, t500_members[k], color=member_colors[k], lw=0.7, marker='+', ms=4, mew=0.6, zorder=2)
ax.plot(hours, t850_ctrl, color='black', lw=2.6, zorder=3)
ax.plot(hours, t500_ctrl, color='black', lw=2.6, zorder=3)
ax.plot(hours, t850_mean, color='red', lw=3.6, zorder=4)
ax.plot(hours, t500_mean, color='red', lw=3.6, zorder=4)

ax.set_yticks(list(range(-45, 35, 5)))
ax.set_yticklabels([str(v) for v in range(-45, 35, 5)])
for lab in ax.get_yticklabels():
    lab.set_ha('left')
ax.tick_params(axis='y', length=0, pad=21.6, labelsize=7.2)
ax.set_xticks(day_hours)
ax.set_xticklabels(day_labels, rotation=90, ha='left', fontsize=7.2)
ax.tick_params(axis='x', length=0, pad=2)
ax.spines['top'].set_visible(False)
for s in ['left', 'right', 'bottom']:
    ax.spines[s].set_linewidth(1.0)

# precipitation on the right (mm) axis
axr = ax.twinx()
axr.set_ylim(-52.57 + 45, 33.14 + 45)
for k in range(50):
    axr.plot(hours_rr, rr_members[k], color=member_colors[k], lw=0.7, marker='+', ms=4, mew=0.6, zorder=2)
axr.plot(hours_rr, rr_ctrl, color='black', lw=2.6, zorder=3)
axr.plot(hours_rr, rr_mean, color='red', lw=3.6, zorder=4)
axr.set_yticks(list(range(0, 80, 5)))
axr.set_yticklabels([str(v) for v in range(0, 80, 5)])
axr.tick_params(axis='y', length=0, pad=14.4, labelsize=7.2)
axr.spines['top'].set_visible(False)
axr.spines['right'].set_linewidth(1.0)

# panel labels
fig.text(*px(60, 16), 'Temp. 850hPa', fontsize=7.2, va='center')
fig.text(*px(60, 272), 'Temp. 500hPa', fontsize=7.2, va='center')
fig.text(*px(59, 536), 'Précipitations', fontsize=7.2, va='center')
fig.text(*px(18, 606), '(°C)', fontsize=7.2, va='center')
fig.text(*px(712, 606), '(mm)', fontsize=7.2, va='center')

# legend
fig.add_artist(Line2D([35 / W, 66 / W], [1 - 639 / H] * 2, color='red', lw=3.6))
fig.text(*px(75, 639), 'Moyenne des scénarios', fontsize=7.2, va='center')
fig.add_artist(Line2D([226 / W, 257 / W], [1 - 639 / H] * 2, color='black', lw=3.6))
fig.text(*px(265, 639), 'Contrôle/Det', fontsize=7.2, va='center')
fig.text(*px(424, 652), '50 Perts.', fontsize=7.2, va='center', ha='right')

for k in range(25):
    x0 = 430 + k * 10.9
    fig.add_artist(Rectangle(px(x0, 651), 10 / W, 7 / H, color=member_colors[k], transform=fig.transFigure))
    fig.add_artist(Rectangle(px(x0, 658), 10 / W, 7 / H, color=member_colors[k + 25], transform=fig.transFigure))
    fig.text(*px(x0 + 5, 640), '%02d' % (k + 1), fontsize=6.0, ha='center', va='center')
    fig.text(*px(x0 + 5, 663), '%02d' % (k + 26), fontsize=6.0, ha='center', va='center')

# title box
fig.add_artist(Rectangle(px(20, 699), 421 / W, 32 / H, fill=False, edgecolor='black', lw=1.0,
                         transform=fig.transFigure))
fig.text(*px(30, 677), 'Diagramme ensembles ECMWF/CEP 0.25° sur 144h : 39.2N 9E', fontsize=8.3,
         fontweight='bold', va='center')
fig.text(*px(30, 691), 'Températures 850hPa et 500hPa (°C) , précipitations (mm)', fontsize=7.2, va='center')
fig.text(*px(451, 675), 'Ensemble ECMWF/CEP du 27/08/2026 - 06Z', fontsize=7.4, va='center')
fig.text(*px(451, 692), 'Copyright 2026 Meteociel.fr - ECMWF', fontsize=9.3, fontweight='bold', va='center')

plt.savefig('out.png', dpi=100)
